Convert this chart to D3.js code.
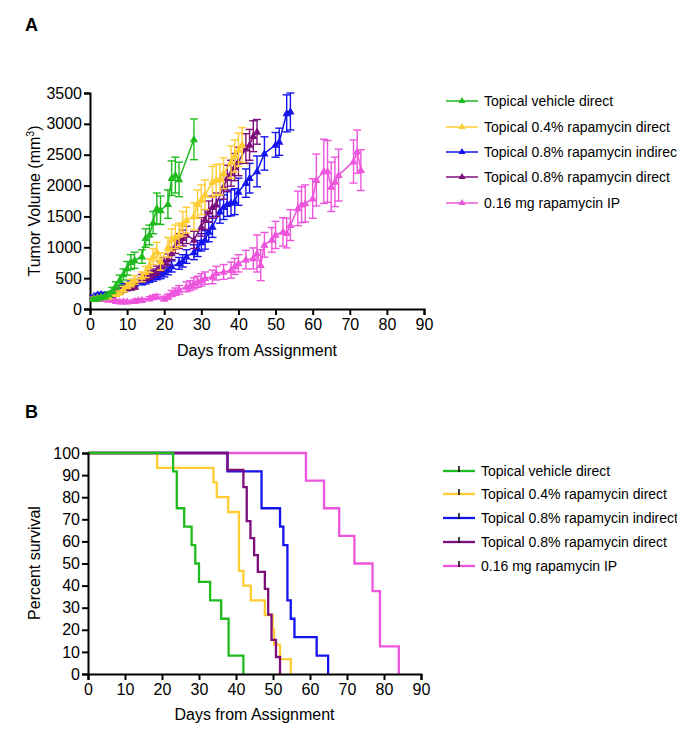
<!DOCTYPE html>
<html><head><meta charset="utf-8">
<script src="https://cdn.jsdelivr.net/npm/d3@7"></script>
<style>body{margin:0;background:#fff}text{font-family:Arial,"Liberation Sans",sans-serif}</style>
</head><body>
<svg id="chart" width="685" height="750"></svg>
<script>
// ---------- Data: Panel A (tumor volume, mean ± SEM) ----------
const seriesNames = ["Topical vehicle direct","Topical 0.4% rapamycin direct","Topical 0.8% rapamycin indirect","Topical 0.8% rapamycin direct","0.16 mg rapamycin IP"];
const seriesColors = ["#1fbb1f","#ffcc33","#1414ee","#7d0f7d","#ee55dd"];

const vehicleDays = [1,2,3,4,5,6,7,8,9,10,11,12,14,15,16,17,18,19,21,22,23,24,28];
const vehicleMean = [160,170,185,200,240,300,380,470,560,660,760,790,850,1150,1200,1400,1630,1600,1700,2120,2170,2100,2750];
const vehicleSem  = [20,20,25,30,40,50,60,80,90,110,120,130,110,150,160,180,250,230,230,280,290,280,330];

const rapa04Days = [1,2,3,4,5,7,8,9,10,11,12,14,15,16,17,18,19,21,22,23,24,25,26,28,29,30,31,33,34,35,36,38,39,40,41];
const rapa04Mean = [170,180,190,190,200,240,270,320,380,420,470,520,600,700,850,930,770,1000,1120,1170,1200,1380,1440,1500,1700,1770,1850,2060,2090,2100,2200,2380,2480,2580,2660];
const rapa04Sem  = [20,20,25,25,30,35,40,45,50,60,70,80,90,110,130,150,140,160,180,190,190,200,210,220,230,240,240,250,250,250,250,260,260,270,280];

const rapa08IndDays = [1,2,3,4,5,6,7,8,9,10,11,12,14,15,16,17,18,19,20,21,22,24,25,26,28,29,30,31,32,33,35,36,37,38,39,40,42,43,45,47,50,51,53,54];
const rapa08IndMean = [200,230,240,230,210,250,300,330,360,380,400,420,450,470,500,520,550,570,600,640,690,740,780,850,920,980,1080,1120,1250,1330,1580,1650,1700,1720,1740,1900,2040,2120,2230,2520,2660,2710,3170,3200];
const rapa08IndSem  = [20,25,30,30,30,35,40,45,50,50,55,60,60,65,70,70,75,80,80,85,90,95,100,110,120,130,140,150,160,170,190,200,200,210,210,220,230,240,250,270,200,220,300,300];

const rapa08DirDays = [1,2,3,4,5,6,7,8,9,10,11,12,14,15,16,17,18,19,20,21,22,23,24,25,26,28,30,31,32,33,34,36,37,38,39,40,42,43,44,45];
const rapa08DirMean = [170,180,190,200,210,230,280,300,310,340,350,370,500,520,550,580,620,690,750,800,900,1010,1100,1150,1200,1120,1330,1450,1580,1650,1690,1980,2120,2200,2300,2390,2600,2660,2800,2870];
const rapa08DirSem  = [20,20,25,25,30,30,35,40,40,45,45,50,60,65,70,70,75,80,85,90,100,110,120,130,140,140,150,160,170,180,190,200,210,210,220,230,240,250,250,200];

const ipDays = [1,2,3,5,6,7,8,9,10,12,13,14,16,17,18,20,21,22,23,24,26,27,28,29,30,31,33,34,36,38,39,40,42,44,45,46,47,49,50,52,53,54,56,57,58,60,61,63,64,65,66,67,71,72,73];
const ipMean = [170,180,160,150,145,130,120,120,120,130,140,145,170,190,200,170,200,250,280,310,360,380,415,440,470,500,520,580,600,630,690,740,800,820,900,710,1040,1120,1200,1250,1230,1360,1630,1690,1710,1790,2090,2230,2230,1980,2060,2170,2390,2550,2250];
const ipSem  = [20,20,20,20,20,20,20,20,20,25,25,25,30,30,35,35,40,50,60,70,80,80,90,90,100,100,110,110,120,130,130,140,150,170,300,250,200,200,220,230,240,250,280,290,300,320,420,520,500,400,400,420,350,350,330];

const volTicks = [0,500,1000,1500,2000,2500,3000,3500];
const dayTicks = [0,10,20,30,40,50,60,70,80,90];

// ---------- Data: Panel B (Kaplan-Meier survival) ----------
const survVehicleT = [0,23,24,26,28,29,30,33,36,38,42];
const survVehicleS = [100,91.7,75,66.7,58.3,50,41.7,33.3,25,8.3,0];
const surv04T = [0,18.7,33.9,34.8,37.9,40.8,42,44,47.8,49.9,50.3,51.9,54.8];
const surv04S = [100,93.3,86.7,80,73.3,46.7,40,33.3,26.7,20,13.3,6.7,0];
const surv08IndT = [0,37.7,46.9,51.9,52.8,53.9,54.8,55.8,61.8,64.9];
const surv08IndS = [100,91.7,75,66.7,58.3,33.3,25,16.7,8.3,0];
const surv08DirT = [0,37.7,42,42.9,43.9,44.9,45.9,47.8,48.7,49.6,50.8,51.9];
const surv08DirS = [100,92.3,84.6,69.2,61.5,53.8,46.2,38.5,26.9,15.4,7.7,0];
const survIpT = [0,58.9,63.8,67.9,72,76.9,78.9,84];
const survIpS = [100,87.5,75,62.5,50,37.5,12.5,0];
const pctTicks = [0,10,20,30,40,50,60,70,80,90,100];

// ---------- Drawing ----------
const svg = d3.select("#chart");
const FONT = "Arial, 'Liberation Sans', sans-serif";

function zip(d, m, s){ return d.map((x,i)=>({x, y:m[i], e:s?s[i]:0})); }
const tumorSeries = [
  {i:4, pts: zip(ipDays, ipMean, ipSem)},
  {i:2, pts: zip(rapa08IndDays, rapa08IndMean, rapa08IndSem)},
  {i:3, pts: zip(rapa08DirDays, rapa08DirMean, rapa08DirSem)},
  {i:1, pts: zip(rapa04Days, rapa04Mean, rapa04Sem)},
  {i:0, pts: zip(vehicleDays, vehicleMean, vehicleSem)}
];
const survSeries = [
  {i:4, t: survIpT, s: survIpS},
  {i:2, t: surv08IndT, s: surv08IndS},
  {i:1, t: surv04T, s: surv04S},
  {i:3, t: surv08DirT, s: surv08DirS},
  {i:0, t: survVehicleT, s: survVehicleS}
];

function styleAxis(g){
  g.selectAll("path.domain").attr("stroke","#000").attr("stroke-width",2);
  g.selectAll(".tick line").attr("stroke","#000").attr("stroke-width",2);
  g.selectAll(".tick text").attr("font-size","16px").attr("font-family",FONT).attr("fill","#000");
}

// Panel letters
svg.append("text").attr("x",25).attr("y",31).attr("font-size","18px").attr("font-weight","bold").text("A");
svg.append("text").attr("x",25).attr("y",418).attr("font-size","18px").attr("font-weight","bold").text("B");

// ---- Panel A ----
const xA = d3.scaleLinear().domain([0,90]).range([90,424]);
const yA = d3.scaleLinear().domain([0,3500]).range([309,93]);

const gA = svg.append("g");
const axAx = gA.append("g").attr("transform","translate(0,309)")
  .call(d3.axisBottom(xA).tickValues(dayTicks).tickFormat(d3.format("d")).tickSizeOuter(0).tickSize(6).tickPadding(4));
styleAxis(axAx);
const axAy = gA.append("g").attr("transform","translate(90,0)")
  .call(d3.axisLeft(yA).tickValues(volTicks).tickFormat(d3.format("d")).tickSizeOuter(0).tickSize(6).tickPadding(2));
styleAxis(axAy);

gA.append("text").attr("x",(90+424)/2).attr("y",356).attr("text-anchor","middle")
  .attr("font-size","16px").text("Days from Assignment");
const yt = gA.append("text").attr("transform","translate(40,201) rotate(-90)")
  .attr("text-anchor","middle").attr("font-size","16px");
yt.append("tspan").text("Tumor Volume (mm");
yt.append("tspan").attr("dy",-6).attr("font-size","10.5px").text("3");
yt.append("tspan").attr("dy",6).text(")");

const lineA = d3.line().x(d=>xA(d.x)).y(d=>yA(d.y));
const tri = d3.symbol().type(d3.symbolTriangle).size(30);

tumorSeries.forEach(s=>{
  const c = seriesColors[s.i];
  const g = gA.append("g");
  s.pts.forEach(p=>{
    const x = xA(p.x), y1 = yA(p.y+p.e), y2 = yA(Math.max(0,p.y-p.e));
    g.append("line").attr("x1",x).attr("x2",x).attr("y1",y1).attr("y2",y2).attr("stroke",c).attr("stroke-width",1.4);
    g.append("line").attr("x1",x-4).attr("x2",x+4).attr("y1",y1).attr("y2",y1).attr("stroke",c).attr("stroke-width",1.4);
    g.append("line").attr("x1",x-4).attr("x2",x+4).attr("y1",y2).attr("y2",y2).attr("stroke",c).attr("stroke-width",1.4);
  });
  g.append("path").datum(s.pts).attr("d",lineA).attr("fill","none").attr("stroke",c).attr("stroke-width",1.5);
  g.selectAll("path.m").data(s.pts).enter().append("path").attr("class","m")
    .attr("d",tri).attr("transform",p=>`translate(${xA(p.x)},${yA(p.y)+0.5})`).attr("fill",c);
});

// Legend A
const legAy = [101,127,152,177,203];
svg.append("clipPath").attr("id","clipLeg").append("rect").attr("x",0).attr("y",0).attr("width",677).attr("height",750);
const legA = svg.append("g").attr("clip-path","url(#clipLeg)");
seriesNames.forEach((n,i)=>{
  const c = seriesColors[i], y = legAy[i];
  legA.append("line").attr("x1",446).attr("x2",478).attr("y1",y).attr("y2",y).attr("stroke",c).attr("stroke-width",1.5);
  legA.append("path").attr("d",d3.symbol().type(d3.symbolTriangle).size(22)).attr("transform",`translate(462,${y})`).attr("fill",c);
  legA.append("text").attr("x",484).attr("y",y).attr("dy","0.35em").attr("font-size","14px").text(n);
});

// ---- Panel B ----
const xB = d3.scaleLinear().domain([0,90]).range([88,421]);
const yB = d3.scaleLinear().domain([0,100]).range([674,453]);
const gB = svg.append("g");

const lineB = d3.line().x(d=>xB(d[0])).y(d=>yB(d[1])).curve(d3.curveStepAfter);
survSeries.forEach(s=>{
  const pts = s.t.map((t,k)=>[t,s.s[k]]);
  gB.append("path").datum(pts).attr("d",lineB).attr("fill","none")
    .attr("stroke",seriesColors[s.i]).attr("stroke-width",2.3);
});

const axBx = gB.append("g").attr("transform","translate(0,674)")
  .call(d3.axisBottom(xB).tickValues(dayTicks).tickFormat(d3.format("d")).tickSizeOuter(0).tickSize(6).tickPadding(4));
styleAxis(axBx);
const axBy = gB.append("g").attr("transform","translate(88,0)")
  .call(d3.axisLeft(yB).tickValues(pctTicks).tickFormat(d3.format("d")).tickSizeOuter(0).tickSize(6).tickPadding(2));
styleAxis(axBy);

gB.append("text").attr("x",(88+421)/2).attr("y",720).attr("text-anchor","middle")
  .attr("font-size","16px").text("Days from Assignment");
gB.append("text").attr("transform","translate(40,563) rotate(-90)")
  .attr("text-anchor","middle").attr("font-size","16px").text("Percent survival");

// Legend B
const legBy = [471,494,518,542,566];
const legB = svg.append("g").attr("clip-path","url(#clipLeg)");
seriesNames.forEach((n,i)=>{
  const c = seriesColors[i], y = legBy[i];
  legB.append("line").attr("x1",443).attr("x2",475).attr("y1",y).attr("y2",y).attr("stroke",c).attr("stroke-width",2.3);
  legB.append("line").attr("x1",459).attr("x2",459).attr("y1",y-5).attr("y2",y+1).attr("stroke","#000").attr("stroke-width",1.5);
  legB.append("text").attr("x",481).attr("y",y).attr("dy","0.35em").attr("font-size","14px").text(n);
});
</script>
</body></html>
